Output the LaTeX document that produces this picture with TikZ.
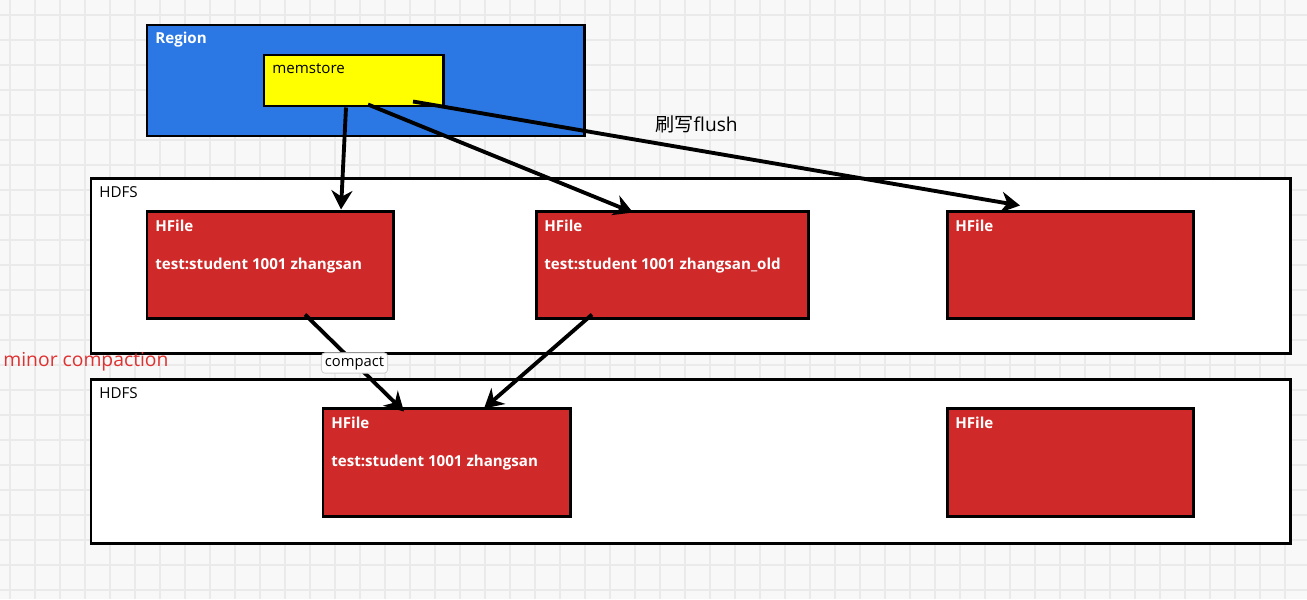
\documentclass[tikz,border=0pt]{standalone}
\usepackage{fontspec}
\setmainfont{Open Sans}
\newfontfamily\cjk{Noto Sans CJK SC}
\usetikzlibrary{arrows.meta,positioning,fit}
\definecolor{bggrey}{HTML}{F8F8F8}
\definecolor{gridgrey}{HTML}{EAEAEA}
\definecolor{regionblue}{HTML}{2B78E4}
\definecolor{hfilered}{HTML}{CF2A29}
\definecolor{memyellow}{HTML}{FFFF00}
\definecolor{minorred}{HTML}{E03131}
\begin{document}
\begin{tikzpicture}[x=0.02cm, y=-0.02cm,
box/.style={draw=black, line width=1.7pt, inner sep=0pt},
regionbox/.style={box, fill=regionblue},
membox/.style={box, fill=memyellow},
hdfsbox/.style={box, fill=white},
hfilebox/.style={box, fill=hfilered},
txt/.style={anchor=west, inner sep=0pt, font=\fontsize{8.6}{10}\selectfont},
wtxt/.style={txt, text=white, font=\fontsize{8.6}{10}\selectfont\bfseries},
flow/.style={-{Stealth[length=3.8mm, width=4.2mm]}, line width=2.2pt},
tag/.style={fill=white, draw=gray!35, line width=0.5pt, rounded corners=2pt, inner sep=2pt, font=\fontsize{8.4}{10}\selectfont}
]
\useasboundingbox (0,0) rectangle (1307,599);
% background grid
\fill[bggrey] (0,0) rectangle (1307,599);
\foreach \gx in {10,35,...,1310} \draw[gridgrey, line width=0.6pt] (\gx,0) -- (\gx,599);
\foreach \gy in {15,40,...,599} \draw[gridgrey, line width=0.6pt] (0,\gy) -- (1307,\gy);
% region and memstore
\node[regionbox, fit={(147,25) (584,136)}] (region) {};
\node[wtxt] (regiontxt) at (155,40) {Region};
\node[membox, fit={(264,55) (443,106)}] (mem) {};
\node[txt] (memtxt) at (272,69) {memstore};
% first HDFS
\node[hdfsbox, fit={(91,178) (1290,353)}] (hdfsa) {};
\node[txt] (hdfsatxt) at (99,192) {HDFS};
\node[hfilebox, fit={(147,211) (393,318)}] (hfa) {};
\node[wtxt] (hfatxt) at (155,226) {HFile};
\node[wtxt] (hfarow) at (155,266) {test:student 1001 zhangsan};
\node[hfilebox, fit={(536,211) (808,318)}] (hfb) {};
\node[wtxt] (hfbtxt) at (544,226) {HFile};
\node[wtxt] (hfbrow) at (544,266) {test:student 1001 zhangsan\_old};
\node[hfilebox, fit={(947,211) (1193,318)}] (hfc) {};
\node[wtxt] (hfctxt) at (955,226) {HFile};
% second HDFS
\node[hdfsbox, fit={(91,379) (1290,543)}] (hdfsb) {};
\node[txt] (hdfsbtxt) at (99,393) {HDFS};
\node[hfilebox, fit={(323,408) (570,516)}] (hfd) {};
\node[wtxt] (hfdtxt) at (331,423) {HFile};
\node[wtxt] (hfdrow) at (331,463) {test:student 1001 zhangsan};
\node[hfilebox, fit={(947,408) (1193,516)}] (hfe) {};
\node[wtxt] (hfetxt) at (955,423) {HFile};
% labels
\node[txt, text=minorred, font=\fontsize{11}{13}\selectfont] (minor) at (3,362) {minor compaction};
\node[txt, font=\fontsize{10.9}{13}\selectfont] (flushtxt) at (655,124) {{\cjk 刷写}flush};
% flush arrows
\draw[flow] ([xshift=-0.15cm]mem.south) -- ([xshift=1.42cm]hfa.north);
\draw[flow] ([xshift=0.29cm,yshift=0.06cm]mem.south) -- ([xshift=-0.78cm,yshift=-0.06cm]hfb.north);
\draw[flow] ([xshift=1.19cm,yshift=0.12cm]mem.south) -- ([xshift=-1cm,yshift=0.08cm]hfc.north);
% compaction arrows
\draw[flow] ([xshift=0.7cm,yshift=0.1cm]hfa.south) -- node[tag] (compact) {compact} ([xshift=-0.85cm,yshift=-0.1cm]hfd.north);
\draw[flow] ([xshift=-1.6cm,yshift=0.1cm]hfb.south) -- ([xshift=0.75cm,yshift=-0.04cm]hfd.north);
\end{tikzpicture}
\end{document}
